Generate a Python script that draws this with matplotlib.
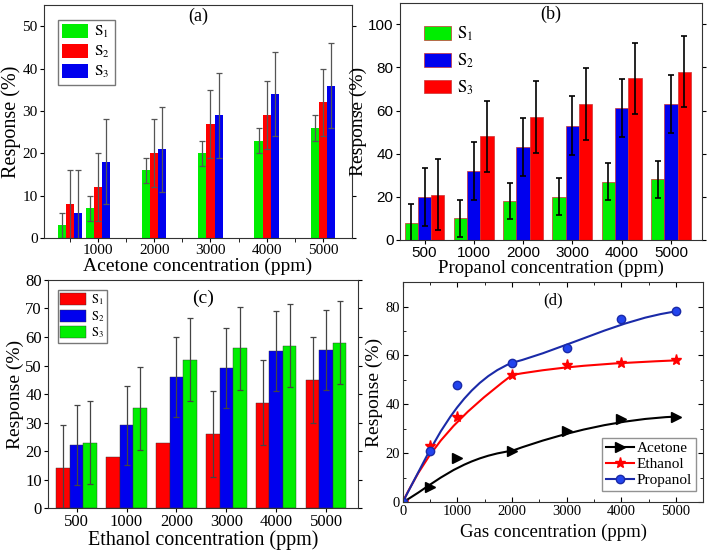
import numpy as np
import matplotlib
matplotlib.use("Agg")
import matplotlib.pyplot as plt
from matplotlib.path import Path
from matplotlib.patches import PathPatch
from matplotlib.lines import Line2D

plt.rcParams["font.family"] = ["Liberation Serif", "DejaVu Serif"]
plt.rcParams["mathtext.fontset"] = "stix"

# (a) acetone
conc_a = [500, 1000, 2000, 3000, 4000, 5000]
ace_s1 = [3, 7, 16, 20, 23, 26]
ace_s2 = [8, 12, 20, 27, 29, 32]
ace_s3 = [6, 18, 21, 29, 34, 36]
ace_e1 = [3, 3, 3, 3, 3, 3]
ace_e2 = [8, 8, 8, 8, 8, 8]
ace_e3 = [10, 10, 10, 10, 10, 10]

# (b) propanol
cats = ["500", "1000", "2000", "3000", "4000", "5000"]
pro_s1 = [8, 10, 18, 20, 27, 28]
pro_s2 = [20, 32, 43, 53, 61, 63]
pro_s3 = [21, 48, 57, 63, 75, 78]
pro_e1 = [8.5, 8.5, 8.5, 8.5, 8.5, 8.5]
pro_e2 = [13.5, 13.5, 13.5, 13.5, 13.5, 13.5]
pro_e3 = [16.5, 16.5, 16.5, 16.5, 16.5, 16.5]

# (c) ethanol
eth_s1 = [14, 18, 23, 26, 37, 45]
eth_s2 = [22, 29, 46, 49, 55, 55.5]
eth_s3 = [23, 35, 52, 56, 57, 58]
eth_e1 = [15, np.nan, np.nan, 15, 15, 15]
eth_e2 = [14, 14, 14, 14, 14, 14]
eth_e3 = [14.5, 14.5, 14.5, 14.5, 14.5, 14.5]

# (d) response vs gas concentration
gas_x = [0, 500, 1000, 2000, 3000, 4000, 5000]
acetone = [0, 6, 18, 21, 29, 34, 35]
ethanol = [0, 23, 35, 52, 56, 57, 58]
propanol = [0, 21, 48, 57, 63, 75, 78]

GREEN, RED, BLUE = "#00ee00", "#ff0000", "#0000ee"

fig = plt.figure(figsize=(7.09, 5.5), dpi=100)
ax_a = fig.add_axes([0.062, 0.567, 0.434, 0.424])
ax_b = fig.add_axes([0.564, 0.564, 0.426, 0.431])
ax_c = fig.add_axes([0.068, 0.076, 0.437, 0.415])
ax_d = fig.add_axes([0.568, 0.087, 0.424, 0.400])

def sub(i):
    return r"$\mathrm{S}_%d$" % i

# ---- (a)
w = 145
xa = np.array(conc_a, dtype=float)
ek = dict(ecolor="#555555", elinewidth=0.9, capsize=2.5, capthick=0.9)
ax_a.bar(xa - w, ace_s1, w, yerr=ace_e1, color=GREEN, label=sub(1), error_kw=ek)
ax_a.bar(xa, ace_s2, w, yerr=ace_e2, color=RED, label=sub(2), error_kw=ek)
ax_a.bar(xa + w, ace_s3, w, yerr=ace_e3, color=BLUE, label=sub(3), error_kw=ek)
ax_a.set_xlim(40, 5510)
ax_a.set_ylim(0, 55)
ax_a.set_xticks([1000, 2000, 3000, 4000, 5000])
ax_a.set_xticks(np.arange(500, 5500, 500), minor=True)
ax_a.set_yticks([0, 10, 20, 30, 40, 50])
ax_a.tick_params(labelsize=11)
ax_a.set_xlabel("Acetone concentration (ppm)", fontsize=14, labelpad=0)
ax_a.set_ylabel("Response (%)", fontsize=14.5, labelpad=1)
ax_a.text(0.5, 0.93, "(a)", transform=ax_a.transAxes, ha="center", fontsize=13)
ax_a.legend(loc="upper left", fontsize=11, handlelength=1.7, handleheight=1.0,
            fancybox=False, edgecolor="#555555", borderpad=0.3, labelspacing=0.25,
            handletextpad=0.4, bbox_to_anchor=(0.02, 0.97))

# ---- (b)
bw = 0.27
xb = np.arange(len(cats))
ekb = dict(ecolor="black", elinewidth=1.2, capsize=2.5, capthick=1.2)
ax_b.bar(xb - bw, pro_s1, bw, yerr=pro_e1, color=GREEN, edgecolor="#cc3333", linewidth=0.5, label=sub(1), error_kw=ekb)
ax_b.bar(xb, pro_s2, bw, yerr=pro_e2, color=BLUE, edgecolor="#cc3333", linewidth=0.5, label=sub(2), error_kw=ekb)
ax_b.bar(xb + bw, pro_s3, bw, yerr=pro_e3, color=RED, edgecolor="#cc3333", linewidth=0.5, label=sub(3), error_kw=ekb)
ax_b.set_xlim(-0.5, 5.63)
ax_b.set_ylim(0, 110)
ax_b.set_xticks(xb)
ax_b.set_xticklabels(cats)
ax_b.set_yticks([0, 20, 40, 60, 80, 100])
for lab in ax_b.get_xticklabels() + ax_b.get_yticklabels():
    lab.set_family("Liberation Sans")
ax_b.tick_params(labelsize=11)
ax_b.set_xlabel("Propanol concentration (ppm)", fontsize=13.5, labelpad=0)
ax_b.set_ylabel("Response (%)", fontsize=14, labelpad=1)
ax_b.text(0.5, 0.93, "(b)", transform=ax_b.transAxes, ha="center", fontsize=13)
ax_b.legend(loc="upper left", fontsize=12, handlelength=1.6, handleheight=0.9,
            frameon=False, labelspacing=0.5, handletextpad=0.4,
            bbox_to_anchor=(0.03, 0.97))

# ---- (c)
ekc = dict(ecolor="#444444", elinewidth=0.9, capsize=2.5, capthick=0.9)
ax_c.bar(xb - bw, eth_s1, bw, yerr=eth_e1, color=RED, edgecolor="#333333", linewidth=0.3, label=sub(1), error_kw=ekc)
ax_c.bar(xb, eth_s2, bw, yerr=eth_e2, color=BLUE, edgecolor="#333333", linewidth=0.3, label=sub(2), error_kw=ekc)
ax_c.bar(xb + bw, eth_s3, bw, yerr=eth_e3, color=GREEN, edgecolor="#333333", linewidth=0.3, label=sub(3), error_kw=ekc)
ax_c.set_xlim(-0.57, 5.64)
ax_c.set_ylim(0, 80)
ax_c.set_xticks(xb)
ax_c.set_xticklabels(cats)
ax_c.set_yticks(np.arange(0, 81, 10))
ax_c.tick_params(labelsize=12)
ax_c.set_xlabel("Ethanol concentration (ppm)", fontsize=14.5, labelpad=0)
ax_c.set_ylabel("Response (%)", fontsize=14, labelpad=1)
ax_c.text(0.5, 0.9, "(c)", transform=ax_c.transAxes, ha="center", fontsize=14)
ax_c.legend(loc="upper left", fontsize=9, handlelength=2.1, handleheight=1.1,
            fancybox=False, edgecolor="#555555", borderpad=0.2, labelspacing=0.15,
            handletextpad=0.4, bbox_to_anchor=(0.01, 0.985))

# ---- (d) Bezier curves using the data as control points
codes = [Path.MOVETO] + [Path.CURVE4] * (len(gas_x) - 1)
series = [(acetone, "black", ">", "Acetone", 7),
          (ethanol, "red", "*", "Ethanol", 8),
          (propanol, "#1a2aa8", "o", "Propanol", 6)]
handles = []
for ys, col, mk, name, ms in series:
    p = Path(np.column_stack([gas_x, ys]), codes)
    ax_d.add_patch(PathPatch(p, facecolor="none", edgecolor=col, linewidth=1.5))
    mfc = "#2244ee" if mk == "o" else col
    ax_d.plot(gas_x, ys, linestyle="none", marker=mk, color=col, mfc=mfc,
              mec=col, markersize=ms)
    handles.append(Line2D([], [], color=col, marker=mk, mfc=mfc, mec=col,
                          markersize=ms, linewidth=1.5, label=name))
ax_d.set_xlim(0, 5500)
ax_d.set_ylim(0, 90)
ax_d.set_xticks([0, 1000, 2000, 3000, 4000, 5000])
ax_d.set_xticks(np.arange(500, 5500, 1000), minor=True)
ax_d.set_yticks([0, 20, 40, 60, 80])
ax_d.set_yticks([10, 30, 50, 70], minor=True)
ax_d.tick_params(labelsize=10.5, pad=2)
ax_d.tick_params(which="both", top=True, right=True, direction="in")
ax_d.set_xlabel("Gas concentration (ppm)", fontsize=13.5, labelpad=4)
ax_d.set_ylabel("Response (%)", fontsize=14, labelpad=2)
ax_d.text(0.5, 0.9, "(d)", transform=ax_d.transAxes, ha="center", fontsize=12)
ax_d.legend(handles=handles, loc="lower right", fontsize=11, handlelength=1.8,
            fancybox=False, edgecolor="#777777", borderpad=0.25, labelspacing=0.15,
            handletextpad=0.2, bbox_to_anchor=(1.0, 0.015))

for ax in (ax_a, ax_b, ax_c):
    ax.tick_params(which="both", right=True, direction="out", length=3, pad=1.5)
for ax in (ax_a, ax_b, ax_c, ax_d):
    for s in ax.spines.values():
        s.set_color("#333333")

fig.savefig("out.png", dpi=100)
